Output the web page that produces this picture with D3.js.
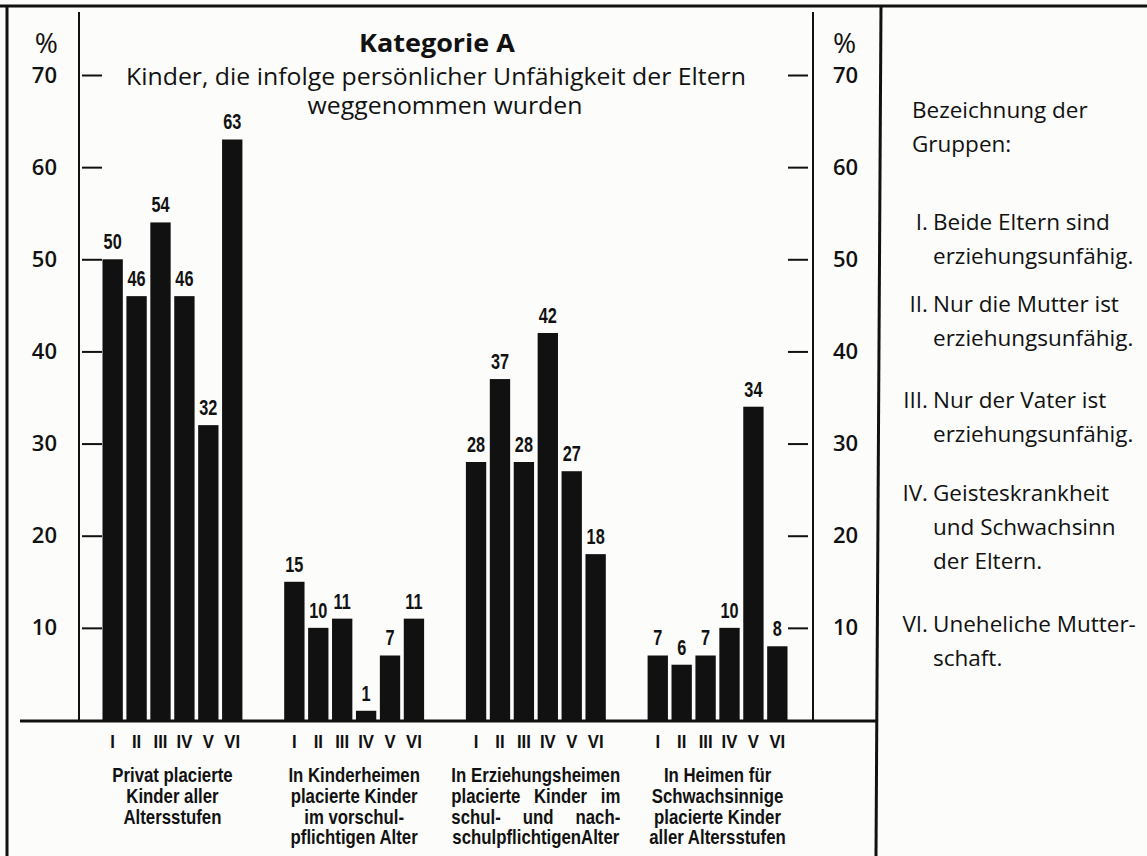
<!DOCTYPE html>
<html><head><meta charset="utf-8">
<script src="https://cdn.jsdelivr.net/npm/d3@7"></script>
<style>
html,body{margin:0;padding:0;background:#fcfcfa;}
svg{display:block;}
</style></head>
<body>
<svg id="chart" width="1147" height="856"></svg>
<script>
// ---------- data ----------
const groupKeys = ["privat", "kinderheime", "erziehungsheime", "schwachsinnige"];
const romanLabels = ["I", "II", "III", "IV", "V", "VI"];
const valuesPrivat = [50, 46, 54, 46, 32, 63];
const valuesKinderheime = [15, 10, 11, 1, 7, 11];
const valuesErziehungsheime = [28, 37, 28, 42, 27, 18];
const valuesSchwachsinnige = [7, 6, 7, 10, 34, 8];
const groupLabels = [
  ["Privat placierte", "Kinder aller", "Altersstufen"],
  ["In Kinderheimen", "placierte Kinder", "im vorschul-", "pflichtigen Alter"],
  ["In Erziehungsheimen", "placierte Kinder im", "schul- und nach-", "schulpflichtigenAlter"],
  ["In Heimen für", "Schwachsinnige", "placierte Kinder", "aller Altersstufen"]
];
const justifiedGroups = [false, false, true, false];
const yTicks = [10, 20, 30, 40, 50, 60, 70];
const titleText = "Kategorie A";
const subtitleLines = ["Kinder, die infolge persönlicher Unfähigkeit der Eltern", "weggenommen wurden"];
const legendTitle = ["Bezeichnung der", "Gruppen:"];
const legendNums = ["I.", "II.", "III.", "IV.", "VI."];
const legendTexts = [
  ["Beide Eltern sind", "erziehungsunfähig."],
  ["Nur die Mutter ist", "erziehungsunfähig."],
  ["Nur der Vater ist", "erziehungsunfähig."],
  ["Geisteskrankheit", "und Schwachsinn", "der Eltern."],
  ["Uneheliche Mutter-", "schaft."]
];

const seriesByGroup = [valuesPrivat, valuesKinderheime, valuesErziehungsheime, valuesSchwachsinnige];
const rows = groupKeys.map((g, i) => ({ key: g, values: seriesByGroup[i].map((v, j) => ({ roman: romanLabels[j], value: v })) }));

// ---------- layout ----------
const svg = d3.select("#chart");
const INK = "#111";
const geo = "'Open Sans', Lato, 'Noto Sans', sans-serif";
const grot = "'Liberation Sans', Arial, sans-serif";

// horizontally scaled text, keeping its anchor point fixed
function stretch(sel, sx) {
  sel.attr("transform", function () {
    const x = +this.getAttribute("x");
    return `translate(${x * (1 - sx)},0) scale(${sx},1)`;
  });
}

svg.append("rect").attr("width", 1147).attr("height", 856).attr("fill", "#fcfcfa");

const y = d3.scaleLinear().domain([0, 70]).range([720, 75]);
const x0 = d3.scaleBand().domain(groupKeys).range([81.6, 808.4]).paddingInner(0.23).paddingOuter(0.115);
const x1 = d3.scaleBand().domain(romanLabels).range([0, x0.bandwidth()]).paddingInner(0.15);

// frame lines
svg.append("line").attr("x1", 0).attr("x2", 1147).attr("y1", 6).attr("y2", 6).attr("stroke", INK).attr("stroke-width", 3);
svg.append("line").attr("x1", 7).attr("x2", 7).attr("y1", 5).attr("y2", 856).attr("stroke", INK).attr("stroke-width", 3);
svg.append("line").attr("x1", 881).attr("x2", 876).attr("y1", 5).attr("y2", 856).attr("stroke", INK).attr("stroke-width", 3);

// axis vertical lines
svg.append("line").attr("x1", 79).attr("x2", 79).attr("y1", 12).attr("y2", 720).attr("stroke", INK).attr("stroke-width", 2);
svg.append("line").attr("x1", 813).attr("x2", 813).attr("y1", 12).attr("y2", 720).attr("stroke", INK).attr("stroke-width", 2);

// left axis
const gL = svg.append("g").attr("transform", "translate(79,0)")
  .call(d3.axisLeft(y).tickValues(yTicks).tickSize(0).tickPadding(22).tickFormat(d3.format("d")));
gL.select(".domain").remove();
gL.selectAll(".tick line").attr("x1", 3).attr("x2", 23).attr("stroke", INK).attr("stroke-width", 2);
gL.selectAll(".tick text").attr("fill", INK).style("font-family", geo).style("font-size", "22px").style("font-weight", "600");

// right axis
const gR = svg.append("g").attr("transform", "translate(813,0)")
  .call(d3.axisRight(y).tickValues(yTicks).tickSize(0).tickPadding(20).tickFormat(d3.format("d")));
gR.select(".domain").remove();
gR.selectAll(".tick line").attr("x1", -25).attr("x2", -5).attr("stroke", INK).attr("stroke-width", 2);
gR.selectAll(".tick text").attr("fill", INK).style("font-family", geo).style("font-size", "22px").style("font-weight", "600");

// percent signs
svg.append("text").attr("x", 58).attr("y", 53).attr("text-anchor", "end").attr("fill", INK)
  .style("font-family", geo).style("font-size", "28px").text("%");
svg.append("text").attr("x", 833).attr("y", 53).attr("text-anchor", "start").attr("fill", INK)
  .style("font-family", geo).style("font-size", "28px").text("%");

// title
svg.append("text").attr("x", 437).attr("y", 52).attr("text-anchor", "middle").attr("fill", INK)
  .style("font-family", geo).style("font-size", "25px").style("font-weight", "700").text(titleText)
  .call(stretch, 1.08);
svg.selectAll("text.sub").data(subtitleLines).join("text").attr("class", "sub")
  .attr("x", (d, i) => i === 0 ? 436 : 445).attr("y", (d, i) => 85 + i * 29)
  .attr("text-anchor", "middle").attr("fill", INK)
  .style("font-family", geo).style("font-size", "23px").style("font-weight", "500").text(d => d)
  .call(stretch, 1.08);

// bars
const gBars = svg.selectAll("g.grp").data(rows).join("g").attr("class", "grp")
  .attr("transform", d => `translate(${x0(d.key)},0)`);
gBars.selectAll("rect").data(d => d.values).join("rect")
  .attr("x", d => x1(d.roman)).attr("width", x1.bandwidth())
  .attr("y", d => y(d.value)).attr("height", d => y(0) - y(d.value))
  .attr("fill", INK);
gBars.selectAll("text.val").data(d => d.values).join("text").attr("class", "val")
  .attr("x", d => x1(d.roman) + x1.bandwidth() / 2).attr("y", d => y(d.value) - 10)
  .attr("text-anchor", "middle").attr("fill", INK)
  .style("font-family", grot).style("font-size", "22px").style("font-weight", "700")
  .text(d => d.value)
  .call(stretch, 0.74);
gBars.selectAll("text.rom").data(d => d.values).join("text").attr("class", "rom")
  .attr("x", d => x1(d.roman) + x1.bandwidth() / 2).attr("y", 748)
  .attr("text-anchor", "middle").attr("fill", INK)
  .style("font-family", grot).style("font-size", "19px").style("font-weight", "700")
  .text(d => d.roman)
  .call(stretch, 0.88);

// baseline
svg.append("line").attr("x1", 20).attr("x2", 877).attr("y1", 721).attr("y2", 721).attr("stroke", INK).attr("stroke-width", 3);

// group labels
const LSX = 0.84;
groupLabels.forEach((lines, gi) => {
  const cx = x0(groupKeys[gi]) + x0.bandwidth() / 2;
  const g = svg.append("g").attr("fill", INK)
    .style("font-family", grot).style("font-size", "20px").style("font-weight", "700");
  if (!justifiedGroups[gi]) {
    lines.forEach((ln, li) => {
      g.append("text").attr("x", cx).attr("y", 782 + li * 20.8).attr("text-anchor", "middle").text(ln).call(stretch, LSX);
    });
  } else {
    const measure = s => { const t = g.append("text").text(s); const l = t.node().getComputedTextLength() * LSX; t.remove(); return l; };
    const W = d3.max(lines, measure);
    const left = cx - W / 2;
    lines.forEach((ln, li) => {
      const words = ln.split(" ");
      const yy = 782 + li * 20.8;
      if (words.length === 1) {
        g.append("text").attr("x", cx).attr("y", yy).attr("text-anchor", "middle").text(ln).call(stretch, LSX);
        return;
      }
      const ws = words.map(measure);
      const gap = (W - d3.sum(ws)) / (words.length - 1);
      let xx = left;
      words.forEach((w, wi) => {
        g.append("text").attr("x", xx).attr("y", yy).attr("text-anchor", "start").text(w).call(stretch, LSX);
        xx += ws[wi] + gap;
      });
    });
  }
});

// legend
const gLeg = svg.append("g").attr("fill", INK).style("font-family", geo).style("font-size", "22.5px").style("font-weight", "500");
const LEG_LINE = 34;
legendTitle.forEach((t, i) => gLeg.append("text").attr("x", 912).attr("y", 118 + i * LEG_LINE).text(t));
const itemTops = [230, 312, 408, 501, 632];
legendNums.forEach((n, i) => {
  gLeg.append("text").attr("x", 928).attr("y", itemTops[i]).attr("text-anchor", "end").text(n);
  legendTexts[i].forEach((t, j) => {
    gLeg.append("text").attr("x", 933).attr("y", itemTops[i] + j * LEG_LINE).text(t);
  });
});
</script>
</body></html>
